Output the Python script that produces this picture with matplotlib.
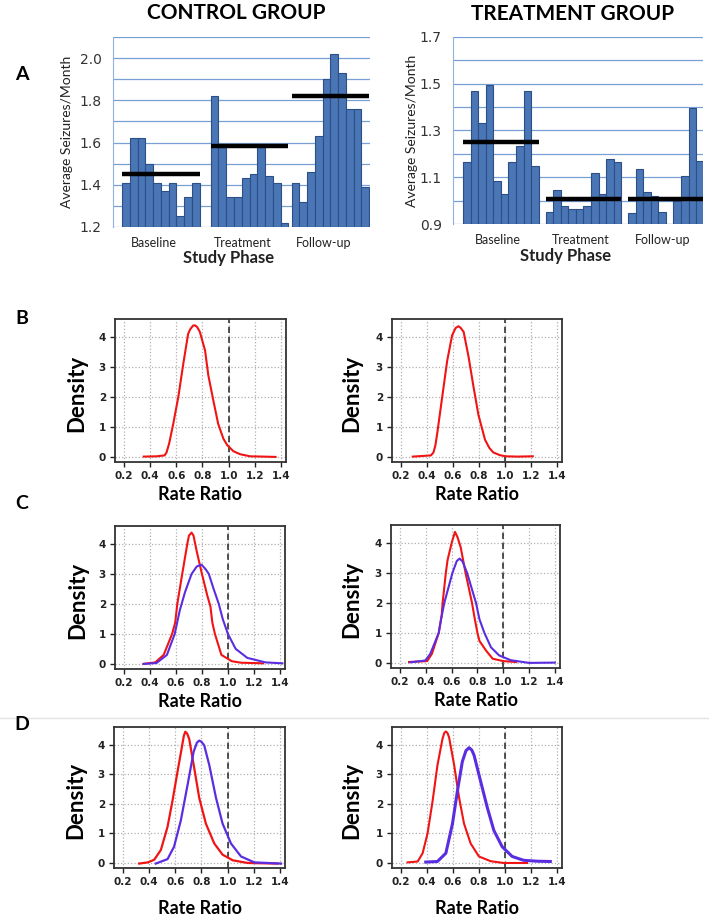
import matplotlib
matplotlib.use('Agg')
import matplotlib.pyplot as plt
from matplotlib.lines import Line2D
import numpy as np

# ---- panel A : average seizures / month by study phase
phases = ['Baseline', 'Treatment', 'Follow-up']

ctrl_baseline = [1.41, 1.62, 1.62, 1.50, 1.41, 1.37, 1.41, 1.25, 1.34, 1.41]
ctrl_treatment = [1.82, 1.58, 1.34, 1.34, 1.43, 1.45, 1.58, 1.44, 1.41, 1.22]
ctrl_followup = [1.41, 1.32, 1.46, 1.63, 1.90, 2.02, 1.93, 1.76, 1.76, 1.39]
ctrl_means = [1.45, 1.585, 1.82]

trt_baseline = [1.165, 1.47, 1.33, 1.495, 1.085, 1.03, 1.165, 1.235, 1.47, 1.15]
trt_treatment = [0.95, 1.045, 0.975, 0.965, 0.965, 0.975, 1.12, 1.03, 1.18, 1.165]
trt_followup = [0.945, 1.135, 1.035, 1.02, 0.95, 0.90, 1.00, 1.105, 1.395, 1.17]
trt_means = [1.25, 1.005, 1.005]

# ---- panels B-D : posterior densities of the rate ratio
rr_ticks = [0.2, 0.4, 0.6, 0.8, 1.0, 1.2, 1.4]
dens_ticks = [0, 1, 2, 3, 4]

b_ctrl_red_x = [0.35, 0.45, 0.51, 0.525, 0.545, 0.576, 0.615, 0.653, 0.69, 0.705, 0.728, 0.742,
                0.76, 0.78, 0.82, 0.845, 0.883, 0.92, 0.96, 0.99, 1.037, 1.088, 1.165, 1.36]
b_ctrl_red_y = [0.01, 0.02, 0.05, 0.15, 0.45, 1.1, 2.0, 3.1, 4.1, 4.25, 4.38, 4.39,
                4.33, 4.17, 3.55, 2.72, 1.89, 1.11, 0.61, 0.39, 0.19, 0.09, 0.02, 0.0]

b_trt_red_x = [0.29, 0.43, 0.45, 0.465, 0.479, 0.517, 0.555, 0.593, 0.62, 0.643, 0.66, 0.682,
               0.72, 0.758, 0.796, 0.847, 0.88, 0.91, 0.96, 1.004, 1.1, 1.215]
b_trt_red_y = [0.01, 0.05, 0.15, 0.4, 0.8, 2.0, 3.2, 4.05, 4.3, 4.36, 4.3, 4.17,
               3.34, 2.34, 1.40, 0.57, 0.3, 0.15, 0.06, 0.02, 0.01, 0.02]

c_ctrl_red_x = [0.35, 0.44, 0.505, 0.57, 0.594, 0.61, 0.648, 0.687, 0.70, 0.72, 0.735, 0.76,
                0.80, 0.84, 0.866, 0.88, 0.90, 0.95, 1.03, 1.1, 1.27]
c_ctrl_red_y = [0.0, 0.05, 0.3, 1.0, 1.38, 2.0, 3.0, 4.0, 4.28, 4.38, 4.28, 3.75,
                3.0, 2.3, 1.9, 1.38, 1.0, 0.3, 0.09, 0.04, 0.02]
c_ctrl_blue_x = [0.35, 0.45, 0.53, 0.59, 0.63, 0.67, 0.72, 0.76, 0.797, 0.83, 0.853, 0.89,
                 0.93, 0.96, 1.0, 1.06, 1.15, 1.29, 1.42]
c_ctrl_blue_y = [0.0, 0.03, 0.3, 1.0, 1.8, 2.4, 3.0, 3.25, 3.31, 3.15, 3.0, 2.5,
                 2.0, 1.5, 1.0, 0.5, 0.2, 0.05, 0.02]

c_trt_red_x = [0.27, 0.41, 0.447, 0.5, 0.523, 0.53, 0.555, 0.568, 0.6, 0.626, 0.645, 0.67,
               0.708, 0.758, 0.778, 0.8, 0.816, 0.867, 0.918, 1.0, 1.1]
c_trt_red_y = [0.03, 0.06, 0.3, 1.0, 1.6, 2.0, 3.0, 3.42, 4.0, 4.37, 4.2, 3.86,
               3.0, 2.0, 1.5, 1.0, 0.73, 0.41, 0.14, 0.06, 0.03]
c_trt_blue_x = [0.28, 0.396, 0.434, 0.5, 0.518, 0.543, 0.606, 0.64, 0.662, 0.685, 0.72, 0.789,
                0.816, 0.854, 0.905, 0.968, 1.058, 1.2, 1.4]
c_trt_blue_y = [0.02, 0.08, 0.3, 1.0, 1.45, 2.0, 3.0, 3.4, 3.48, 3.38, 3.0, 2.0,
                1.45, 1.0, 0.52, 0.25, 0.09, 0.0, 0.01]

d_ctrl_red_x = [0.323, 0.39, 0.438, 0.489, 0.54, 0.578, 0.617, 0.648, 0.665, 0.676, 0.69,
                0.706, 0.745, 0.783, 0.834, 0.898, 0.962, 1.04, 1.154, 1.384]
d_ctrl_red_y = [-0.02, 0.02, 0.11, 0.44, 1.22, 2.1, 3.1, 3.87, 4.3, 4.44, 4.38,
                4.2, 3.2, 2.2, 1.33, 0.66, 0.28, 0.09, 0.0, -0.02]
d_ctrl_blue_x = [0.45, 0.54, 0.59, 0.642, 0.694, 0.74, 0.765, 0.783, 0.80, 0.821, 0.86, 0.911,
                 0.962, 1.026, 1.103, 1.205, 1.41]
d_ctrl_blue_y = [-0.02, 0.13, 0.55, 1.44, 2.65, 3.76, 4.07, 4.14, 4.1, 3.98, 3.31, 2.21,
                 1.33, 0.66, 0.22, 0.02, -0.02]

d_trt_red_x = [0.25, 0.328, 0.366, 0.404, 0.443, 0.48, 0.519, 0.533, 0.545, 0.557, 0.57, 0.609,
               0.647, 0.685, 0.736, 0.8, 0.89, 0.99, 1.17]
d_trt_red_y = [0.02, 0.05, 0.33, 1.0, 2.1, 3.3, 4.2, 4.4, 4.45, 4.4, 4.25, 3.31,
               2.21, 1.33, 0.66, 0.22, 0.06, 0.0, 0.0]
d_trt_blue_x = [0.39, 0.48, 0.545, 0.596, 0.634, 0.672, 0.70, 0.724, 0.745, 0.762, 0.813,
                0.864, 0.915, 0.979, 1.056, 1.145, 1.247, 1.35]
d_trt_blue_y = [0.03, 0.05, 0.33, 1.33, 2.43, 3.43, 3.8, 3.9, 3.82, 3.65, 2.76,
                1.88, 1.1, 0.55, 0.22, 0.09, 0.06, 0.05]

RED = '#f01414'
BLUE = '#5a2ee0'
LABEL_FONT = ['Lato', 'DejaVu Sans']

W, H = 709, 921
fig = plt.figure(figsize=(W / 100, H / 100), dpi=100)


def box(l, r, t, b):
    # pixel box -> figure fraction
    return [l / W, 1 - b / H, (r - l) / W, (b - t) / H]


def bar_panel(ax, groups, means, starts, ylo, yhi, xlim, shift, title, ylab_x, phase_y):
    for vals, m, s in zip(groups, means, starts):
        pos = s + np.arange(len(vals))
        ax.bar(pos, np.array(vals) - ylo, bottom=ylo, width=1.0, align='edge',
               color='#4a76b5', edgecolor='#2b4f86', linewidth=0.8, zorder=2)
        ax.plot([s, s + len(vals)], [m, m], color='black', lw=3.2,
                solid_capstyle='butt', zorder=3)
    ax.set_xlim(*xlim)
    ax.set_ylim(ylo, yhi)
    ax.set_yticks(np.round(np.arange(ylo, yhi + 0.001, 0.2), 1))
    ax.set_yticks(np.round(np.arange(ylo, yhi + 0.001, 0.1), 1), minor=True)
    ax.yaxis.grid(True, which='both', color='#78a0d4', lw=0.9)
    ax.set_axisbelow(True)
    for sp in ['top', 'right', 'bottom']:
        ax.spines[sp].set_visible(False)
    ax.spines['left'].set_color('#8fb0dc')
    ax.tick_params(axis='y', which='both', length=0, pad=8, labelsize=10, labelcolor='#333333')
    centers = [s + len(g) / 2 - shift for g, s in zip(groups, starts)]
    ax.set_xticks(centers)
    ax.set_xticklabels(phases, fontfamily=LABEL_FONT, fontsize=9, color='#222222')
    ax.tick_params(axis='x', length=0, pad=7)
    ax.text(0.45, phase_y, 'Study Phase', transform=ax.transAxes, ha='center', va='center',
            fontfamily=LABEL_FONT, fontsize=12, fontweight='bold', color='#222222')
    ax.text(ylab_x, 0.5, 'Average Seizures/Month', transform=ax.transAxes, rotation=90,
            ha='center', va='center', fontfamily=LABEL_FONT, fontsize=10, color='#222222')
    ax.text(0.48, 1.125, title, transform=ax.transAxes, ha='center', va='center',
            fontfamily=LABEL_FONT, fontsize=15, fontweight='bold')


ax1 = fig.add_axes(box(113, 370, 37, 227))
bar_panel(ax1, [ctrl_baseline, ctrl_treatment, ctrl_followup], ctrl_means,
          [0, 11.4, 21.8], 1.2, 2.1, (-1.17, 31.9), 0.9, 'CONTROL GROUP', -0.18, -0.165)

ax2 = fig.add_axes(box(453, 703, 37, 224))
bar_panel(ax2, [trt_baseline, trt_treatment, trt_followup], trt_means,
          [0, 10.9, 21.8], 0.9, 1.7, (-1.32, 31.7), 0.4, 'TREATMENT GROUP', -0.165, -0.17)


def density_panel(ax, curves, label_x, rr_y):
    for x, y, c, lw in curves:
        ax.plot(x, y, color=c, lw=lw, zorder=3, solid_joinstyle='round')
    ax.axvline(1.0, color='#222222', ls=(0, (4, 2.5)), lw=1.1, zorder=2)
    ax.set_xlim(0.13, 1.44)
    ax.set_ylim(-0.17, 4.6)
    ax.set_xticks(rr_ticks)
    ax.set_xticklabels(['%.1f' % v for v in rr_ticks])
    ax.set_yticks(dens_ticks)
    ax.grid(True, ls=':', color='#b0b0b0', lw=0.9)
    for sp in ax.spines.values():
        sp.set_linewidth(1.3)
        sp.set_color('#333333')
    ax.tick_params(length=3.5, width=1, pad=3, labelsize=7.5, colors='#222222')
    for lab in ax.get_xticklabels() + ax.get_yticklabels():
        lab.set_fontweight('bold')
    ax.text(0.5, rr_y, 'Rate Ratio', transform=ax.transAxes, ha='center', va='center',
            fontfamily=LABEL_FONT, fontsize=13, fontweight='bold')
    ax.text(label_x, 0.48, 'Density', transform=ax.transAxes, rotation=90, ha='center',
            va='center', fontfamily=LABEL_FONT, fontsize=16, fontweight='bold')


axb1 = fig.add_axes(box(115, 286, 319, 462))
density_panel(axb1, [(b_ctrl_red_x, b_ctrl_red_y, RED, 1.5)], -0.222, -0.23)
axb2 = fig.add_axes(box(392, 562, 319, 462))
density_panel(axb2, [(b_trt_red_x, b_trt_red_y, RED, 1.5)], -0.235, -0.23)

axc1 = fig.add_axes(box(115, 285, 526, 669))
density_panel(axc1, [(c_ctrl_red_x, c_ctrl_red_y, RED, 1.5),
                     (c_ctrl_blue_x, c_ctrl_blue_y, BLUE, 1.5)], -0.222, -0.23)
axc2 = fig.add_axes(box(391, 560, 525, 668))
density_panel(axc2, [(c_trt_red_x, c_trt_red_y, RED, 1.5),
                     (c_trt_blue_x, c_trt_blue_y, BLUE, 1.5)], -0.235, -0.23)

axd1 = fig.add_axes(box(114, 285, 727, 868))
density_panel(axd1, [(d_ctrl_red_x, d_ctrl_red_y, RED, 1.6),
                     (d_ctrl_blue_x, d_ctrl_blue_y, BLUE, 1.6)], -0.222, -0.285)
axd2 = fig.add_axes(box(392, 562, 727, 868))
density_panel(axd2, [(d_trt_red_x, d_trt_red_y, RED, 1.5),
                     (d_trt_blue_x, d_trt_blue_y, BLUE, 2.2)], -0.235, -0.285)

# panel letters and the light divider above row D
for letter, ypix in zip('ABCD', [75, 318, 503, 724]):
    fig.text(22 / W, 1 - ypix / H, letter, ha='center', va='center',
             fontfamily=LABEL_FONT, fontsize=14, fontweight='bold')
fig.add_artist(Line2D([0, 1], [1 - 718 / H] * 2, color='#e2e2e2', lw=1))

fig.savefig('out.png', dpi=100)
